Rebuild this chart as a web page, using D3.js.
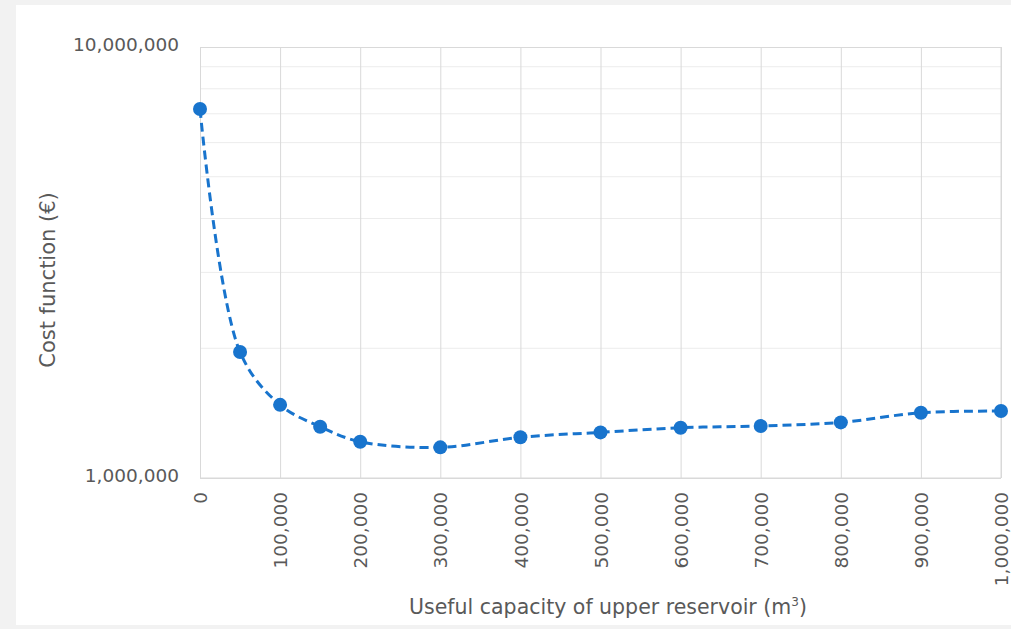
<!DOCTYPE html>
<html>
<head>
<meta charset="utf-8">
<script src="https://cdn.jsdelivr.net/npm/d3@7"></script>
<style>
  body { margin: 0; background: #f2f2f2; }
  svg { display: block; font-family: "DejaVu Sans", sans-serif; }
</style>
</head>
<body>
<svg id="chart" width="1011" height="629"></svg>
<script>
// capacity of upper reservoir (m3)
const capacity = [0, 50000, 100000, 150000, 200000, 300000, 400000, 500000, 600000, 700000, 800000, 900000, 1000000];
// cost function (EUR)
const cost = [7180000, 1960000, 1478000, 1315000, 1214000, 1178000, 1243000, 1276000, 1308000, 1320000, 1346000, 1417000, 1430000];
const xTicks = [0, 100000, 200000, 300000, 400000, 500000, 600000, 700000, 800000, 900000, 1000000];
const yLabels = [1000000, 10000000];
const yGrid = [2e6, 3e6, 4e6, 5e6, 6e6, 7e6, 8e6, 9e6];

const svg = d3.select("#chart");
const margin = { top: 47, left: 200, right: 10, bottom: 151 };
const width = 1011 - margin.left - margin.right;
const height = 629 - margin.top - margin.bottom;

svg.append("rect")
  .attr("x", 16).attr("y", 5)
  .attr("width", 995).attr("height", 620)
  .attr("fill", "white");

const g = svg.append("g").attr("transform", `translate(${margin.left},${margin.top})`);

const x = d3.scaleLinear().domain([0, 1000000]).range([0, width]);
const y = d3.scaleLog().domain([1e6, 1e7]).range([height, 0]);
const fmt = d3.format(",");
const grey = "#595959";
const blue = "#1874cd";

// minor grid
g.append("g").selectAll("line")
  .data(yGrid)
  .join("line")
  .attr("x1", 0).attr("x2", width)
  .attr("y1", d => y(d)).attr("y2", d => y(d))
  .attr("stroke", "#ececec").attr("stroke-width", 1);

const yAxis = g.append("g")
  .call(d3.axisLeft(y).tickValues(yLabels).tickFormat(fmt).tickSize(-width).tickPadding(21))
  .attr("font-family", null);
yAxis.select(".domain").remove();
yAxis.selectAll("line").attr("stroke", "#d9d9d9");
yAxis.selectAll("text").attr("fill", grey).attr("font-size", 18.5).attr("dy", "0.2em");

const xAxis = g.append("g")
  .attr("transform", `translate(0,${height})`)
  .call(d3.axisBottom(x).tickValues(xTicks).tickFormat(fmt).tickSize(-height).tickPadding(0))
  .attr("font-family", null);
xAxis.select(".domain").attr("stroke", "#d9d9d9").attr("d", `M0,0H${width}`);
xAxis.selectAll("line").attr("stroke", "#d9d9d9");
xAxis.selectAll("text")
  .attr("fill", grey).attr("font-size", 18.5)
  .attr("transform", "rotate(-90)")
  .attr("text-anchor", "end")
  .attr("x", -14).attr("y", 0).attr("dy", "0.36em");

// right border
g.append("line")
  .attr("x1", width).attr("x2", width).attr("y1", 0).attr("y2", height)
  .attr("stroke", "#d9d9d9");

const pts = capacity.map((c, i) => [x(c), y(cost[i])]);

g.append("path")
  .datum(pts)
  .attr("fill", "none")
  .attr("stroke", blue)
  .attr("stroke-width", 3)
  .attr("stroke-dasharray", "9,5")
  .attr("d", d3.line().curve(d3.curveCatmullRom.alpha(0.5)));

g.append("g").selectAll("circle")
  .data(pts)
  .join("circle")
  .attr("cx", d => d[0]).attr("cy", d => d[1])
  .attr("r", 7)
  .attr("fill", blue);

// axis titles
svg.append("text")
  .attr("transform", "translate(55,280) rotate(-90)")
  .attr("text-anchor", "middle")
  .attr("fill", grey).attr("font-size", 21)
  .text("Cost function (€)");

const xt = svg.append("text")
  .attr("x", 608).attr("y", 614)
  .attr("text-anchor", "middle")
  .attr("fill", grey).attr("font-size", 20.5);
xt.append("tspan").text("Useful capacity of upper reservoir (m");
xt.append("tspan").attr("font-size", 12).attr("dy", -8).text("3");
xt.append("tspan").attr("dy", 8).text(")");
</script>
</body>
</html>
